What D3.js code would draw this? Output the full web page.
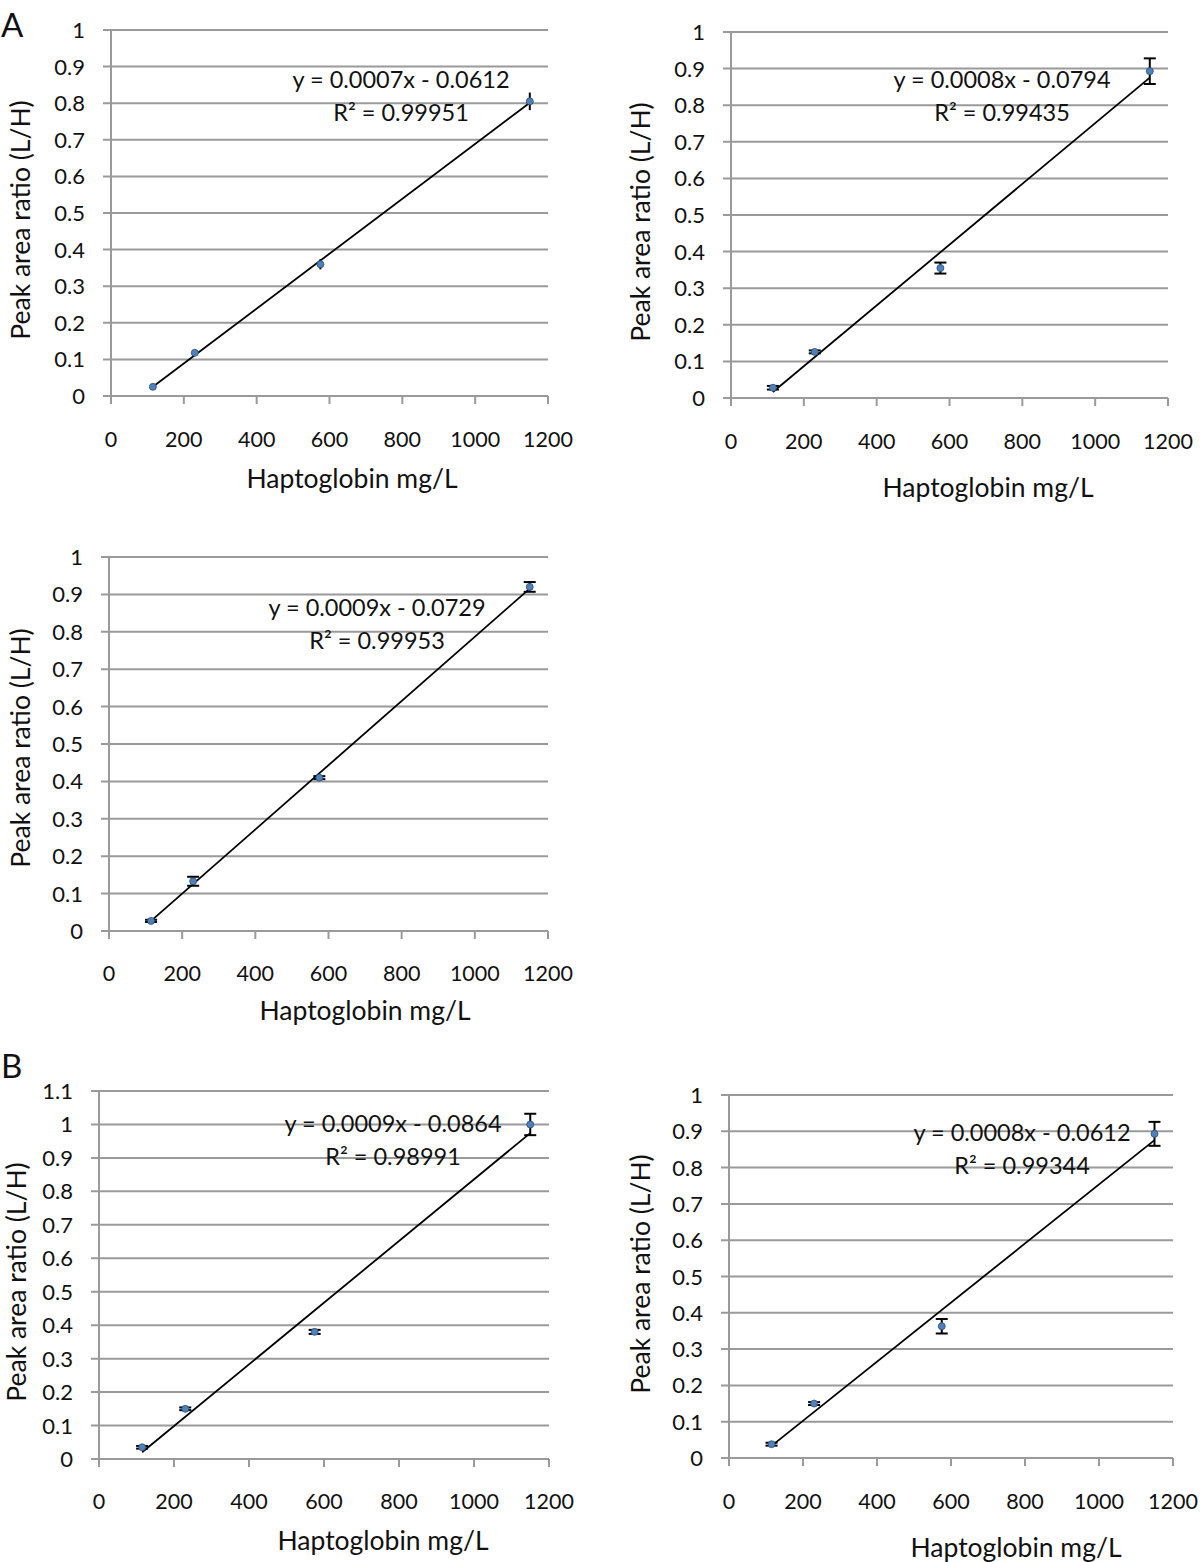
<!DOCTYPE html>
<html><head><meta charset="utf-8">
<script src="https://cdn.jsdelivr.net/npm/d3@7"></script>
<style>
html,body{margin:0;padding:0;background:#fff;}
text{font-family:Lato,"Open Sans",sans-serif;fill:#111;}
</style></head>
<body>
<svg id="chart" width="1200" height="1562"></svg>
<script>
// ---- data ----
const concentrations = [115, 230, 575, 1150];
const xTicks = [0, 200, 400, 600, 800, 1000, 1200];
const yTicks10 = [0, 0.1, 0.2, 0.3, 0.4, 0.5, 0.6, 0.7, 0.8, 0.9, 1];
const yTicks11 = [0, 0.1, 0.2, 0.3, 0.4, 0.5, 0.6, 0.7, 0.8, 0.9, 1, 1.1];

const valuesA1 = [0.025, 0.118, 0.360, 0.805];
const errorsA1 = [0.003, 0.004, 0.014, 0.024];
const valuesA2 = [0.028, 0.126, 0.355, 0.893];
const errorsA2 = [0.005, 0.004, 0.015, 0.035];
const valuesA3 = [0.027, 0.133, 0.410, 0.920];
const errorsA3 = [0.003, 0.012, 0.004, 0.013];
const valuesB1 = [0.035, 0.150, 0.380, 1.000];
const errorsB1 = [0.004, 0.004, 0.006, 0.032];
const valuesB2 = [0.038, 0.150, 0.363, 0.893];
const errorsB2 = [0.004, 0.004, 0.020, 0.033];

const equations = ["y = 0.0007x - 0.0612", "y = 0.0008x - 0.0794", "y = 0.0009x - 0.0729", "y = 0.0009x - 0.0864", "y = 0.0008x - 0.0612"];
const r2Labels = ["R² = 0.99951", "R² = 0.99435", "R² = 0.99953", "R² = 0.98991", "R² = 0.99344"];
const xTitle = "Haptoglobin mg/L";
const yTitle = "Peak area ratio (L/H)";

// ---- layout ----
const layouts = [
  {vals: valuesA1, errs: errorsA1, eq: 0, cap: 0, yMax: 1, ticks: yTicks10, left: 111, right: 548, top: 30, bottom: 396, tickY: 447, xtY: 488, xtX: 352, ytX: 30, ytY: 220, eqX: 401, eqY: 88},
  {vals: valuesA2, errs: errorsA2, eq: 1, cap: 6, yMax: 1, ticks: yTicks10, left: 731, right: 1168, top: 32, bottom: 398, tickY: 449, xtY: 497, xtX: 988, ytX: 650, ytY: 222, eqX: 1002, eqY: 88},
  {vals: valuesA3, errs: errorsA3, eq: 2, cap: 6, yMax: 1, ticks: yTicks10, left: 109, right: 548, top: 557, bottom: 931, tickY: 981, xtY: 1020, xtX: 365, ytX: 30, ytY: 748, eqX: 377, eqY: 616},
  {vals: valuesB1, errs: errorsB1, eq: 3, cap: 6, yMax: 1.1, ticks: yTicks11, left: 99, right: 549, top: 1091, bottom: 1459, tickY: 1509, xtY: 1550, xtX: 383, ytX: 26, ytY: 1282, eqX: 393, eqY: 1132},
  {vals: valuesB2, errs: errorsB2, eq: 4, cap: 6, yMax: 1, ticks: yTicks10, left: 729, right: 1173, top: 1095, bottom: 1458, tickY: 1509, xtY: 1557, xtX: 1016, ytX: 650, ytY: 1274, eqX: 1022, eqY: 1141}
];

const svg = d3.select("#chart");
const gridColor = "#9a9a9a";

function regression(xs, ys) {
  const mx = d3.mean(xs), my = d3.mean(ys);
  let sxy = 0, sxx = 0;
  xs.forEach((x, i) => { sxy += (x - mx) * (ys[i] - my); sxx += (x - mx) * (x - mx); });
  const b = sxy / sxx;
  return {slope: b, intercept: my - b * mx};
}

function drawPanel(L) {
  const g = svg.append("g");
  const x = d3.scaleLinear().domain([0, 1200]).range([L.left, L.right]);
  const y = d3.scaleLinear().domain([0, L.yMax]).range([L.bottom, L.top]);

  // horizontal gridlines (with left tick stubs)
  g.selectAll("line.grid").data(L.ticks).join("line")
    .attr("x1", L.left - 8).attr("x2", L.right)
    .attr("y1", d => y(d)).attr("y2", d => y(d))
    .attr("stroke", gridColor).attr("stroke-width", 2);

  // y axis line
  g.append("line").attr("x1", L.left).attr("x2", L.left)
    .attr("y1", L.top).attr("y2", L.bottom + 8)
    .attr("stroke", gridColor).attr("stroke-width", 2);

  // x ticks
  g.selectAll("line.xt").data(xTicks).join("line")
    .attr("x1", d => x(d)).attr("x2", d => x(d))
    .attr("y1", L.bottom).attr("y2", L.bottom + 8)
    .attr("stroke", gridColor).attr("stroke-width", 2);

  // y tick labels
  g.selectAll("text.yl").data(L.ticks).join("text")
    .attr("x", L.left - 26).attr("y", d => y(d) + 8)
    .attr("text-anchor", "end").attr("font-size", 22)
    .text(d => d3.format("~g")(d));

  // x tick labels
  g.selectAll("text.xl").data(xTicks).join("text")
    .attr("x", d => x(d)).attr("y", L.tickY)
    .attr("text-anchor", "middle").attr("font-size", 21.5)
    .text(d => d);

  // axis titles
  g.append("text").attr("x", L.xtX).attr("y", L.xtY)
    .attr("text-anchor", "middle").attr("font-size", 26.5).text(xTitle);
  g.append("text").attr("transform", `translate(${L.ytX},${L.ytY}) rotate(-90)`)
    .attr("text-anchor", "middle").attr("font-size", 26.5).text(yTitle);

  // trendline
  const r = regression(concentrations, L.vals);
  const x0 = concentrations[0], x1 = concentrations[concentrations.length - 1];
  g.append("line")
    .attr("x1", x(x0)).attr("y1", y(r.intercept + r.slope * x0))
    .attr("x2", x(x1)).attr("y2", y(r.intercept + r.slope * x1))
    .attr("stroke", "#000").attr("stroke-width", 1.8);

  // error bars
  const pts = concentrations.map((c, i) => ({c, v: L.vals[i], e: L.errs[i]}));
  const eb = g.selectAll("g.eb").data(pts).join("g");
  eb.append("line").attr("x1", d => x(d.c)).attr("x2", d => x(d.c))
    .attr("y1", d => y(d.v - d.e)).attr("y2", d => y(d.v + d.e))
    .attr("stroke", "#000").attr("stroke-width", 2);
  if (L.cap > 0) {
    eb.append("line").attr("x1", d => x(d.c) - L.cap).attr("x2", d => x(d.c) + L.cap)
      .attr("y1", d => y(d.v - d.e)).attr("y2", d => y(d.v - d.e))
      .attr("stroke", "#000").attr("stroke-width", 2);
    eb.append("line").attr("x1", d => x(d.c) - L.cap).attr("x2", d => x(d.c) + L.cap)
      .attr("y1", d => y(d.v + d.e)).attr("y2", d => y(d.v + d.e))
      .attr("stroke", "#000").attr("stroke-width", 2);
  }

  // markers
  g.selectAll("circle.pt").data(pts).join("circle")
    .attr("cx", d => x(d.c)).attr("cy", d => y(d.v)).attr("r", 3.5)
    .attr("fill", "#4f81bd").attr("stroke", "#2c4d75").attr("stroke-width", 0.8);

  // equation labels
  g.append("text").attr("x", L.eqX).attr("y", L.eqY)
    .attr("text-anchor", "middle").attr("font-size", 23.5).text(equations[L.eq]);
  g.append("text").attr("x", L.eqX).attr("y", L.eqY + 33)
    .attr("text-anchor", "middle").attr("font-size", 23.5).text(r2Labels[L.eq]);
}

layouts.forEach(drawPanel);

// panel letters
svg.append("text").attr("x", 1).attr("y", 37).attr("font-size", 33).text("A");
svg.append("text").attr("x", 1).attr("y", 1078).attr("font-size", 33).text("B");
</script>
</body></html>
